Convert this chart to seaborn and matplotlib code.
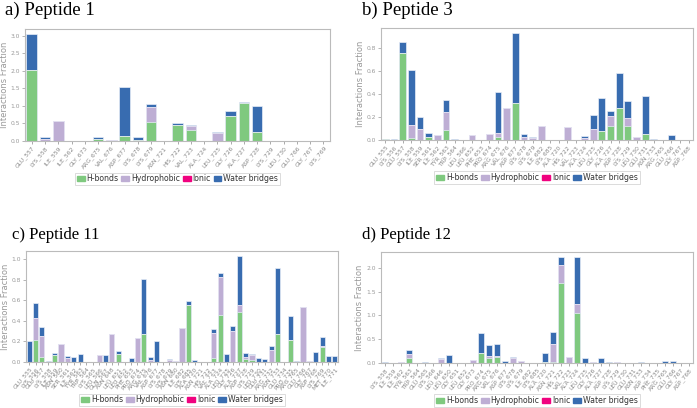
import numpy as np
import pandas as pd
import matplotlib
matplotlib.use("Agg")
import matplotlib.pyplot as plt
from matplotlib.patches import Patch
import seaborn as sns

# colours used by the interaction histogram
C_HB = "#7fc97f"
C_HY = "#beaed4"
C_IO = "#f0027f"
C_WB = "#386cb0"

# ---- Peptide 1 ----
labels_a = ["GLU_557", "LYS_558", "ILE_559", "ILE_562", "GLY_673", "ARG_675", "VAL_676",
            "ASP_677", "LYS_678", "LYS_679", "ASN_721", "HIS_722", "VAL_723", "ALA_724",
            "LEU_725", "GLY_726", "ALA_727", "ASP_728", "LYS_729", "LEU_730", "GLU_766",
            "GLY_767", "LYS_769"]
hb_a = [2.02, 0, 0, 0, 0, 0.06, 0, 0.13, 0.02, 0.55, 0, 0.45, 0.30, 0, 0, 0.70, 1.08,
        0.27, 0, 0, 0.01, 0, 0]
hy_a = [0, 0.05, 0.58, 0, 0, 0.01, 0.03, 0, 0, 0.43, 0, 0.02, 0.12, 0, 0.23, 0.02, 0,
        0, 0, 0, 0, 0, 0]
io_a = [0] * 23
wb_a = [1.02, 0.07, 0, 0, 0, 0.04, 0, 1.42, 0.10, 0.08, 0, 0.05, 0.05, 0, 0.02, 0.14,
        0.02, 0.73, 0.01, 0.01, 0, 0.01, 0]

# ---- Peptide 3 ----
labels_b = ["GLU_555", "LYS_556", "GLU_557", "LYS_558", "ILE_559", "SER_561", "ILE_562",
            "TYR_563", "TRP_564", "LEU_566", "LEU_652", "PHE_653", "PRO_674", "ARG_675",
            "VAL_676", "ASP_677", "LYS_678", "LYS_679", "ILE_682", "LYS_685", "ALA_720",
            "HIS_722", "VAL_723", "ALA_724", "LEU_725", "GLY_726", "ALA_727", "ASP_728",
            "LYS_729", "LEU_730", "GLU_731", "ASN_733", "ARG_765", "GLU_766", "GLY_767",
            "ASP_768"]
hb_b = [0.005, 0, 0.76, 0.02, 0, 0.03, 0, 0.09, 0, 0, 0, 0, 0, 0.03, 0, 0.32, 0, 0, 0, 0,
        0, 0, 0, 0, 0, 0.08, 0.12, 0.28, 0.12, 0, 0.05, 0, 0, 0, 0, 0]
hy_b = [0, 0, 0, 0.11, 0.10, 0, 0.045, 0.15, 0, 0, 0.04, 0, 0.05, 0.03, 0.28, 0, 0.03,
        0.015, 0.12, 0, 0, 0.11, 0, 0.02, 0.10, 0, 0.09, 0, 0.07, 0.03, 0, 0, 0, 0, 0, 0]
io_b = [0] * 36
wb_b = [0.005, 0.005, 0.09, 0.48, 0.10, 0.03, 0, 0.11, 0.005, 0, 0.005, 0, 0, 0.36, 0,
        0.61, 0.02, 0.015, 0, 0, 0, 0, 0, 0.015, 0.12, 0.29, 0.04, 0.30, 0.15, 0, 0.33,
        0.01, 0, 0.045, 0, 0]

# ---- Peptide 11 ----
labels_c = ["GLU_555", "LYS_556", "GLU_557", "LYS_558", "ILE_559", "ASN_560", "SER_561",
            "ILE_562", "TYR_563", "TRP_564", "LYS_565", "LEU_566", "GLN_567", "ASN_648",
            "LEU_651", "LEU_652", "PHE_653", "PRO_674", "ARG_675", "VAL_676", "ASP_677",
            "LYS_678", "LYS_679", "ASN_680", "ILE_682", "LYS_685", "ALA_720", "ASN_721",
            "HIS_722", "VAL_723", "ALA_724", "LEU_725", "GLY_726", "ALA_727", "ASP_728",
            "LYS_729", "LEU_730", "GLU_731", "ARG_732", "ASN_733", "GLU_734", "PRO_735",
            "ARG_765", "GLU_766", "GLY_767", "ASP_768", "LYS_769", "MET_770", "ILE_771"]
hb_c = [0, 0.21, 0.05, 0, 0.07, 0, 0, 0, 0, 0, 0, 0, 0, 0, 0.08, 0, 0, 0, 0.27, 0, 0, 0,
        0, 0, 0, 0.56, 0, 0, 0, 0.04, 0.46, 0, 0, 0.49, 0.03, 0.02, 0, 0, 0, 0.27, 0, 0.21,
        0, 0, 0, 0, 0.15, 0, 0]
hy_c = [0, 0.22, 0.20, 0, 0, 0.18, 0.04, 0, 0, 0, 0.005, 0.07, 0, 0.27, 0, 0, 0, 0.23,
        0, 0.02, 0, 0, 0.015, 0.01, 0.33, 0, 0, 0, 0, 0.24, 0.37, 0, 0.30, 0.07, 0.02,
        0.05, 0, 0, 0.12, 0, 0, 0, 0, 0.54, 0.01, 0, 0.01, 0, 0]
io_c = [0] * 49
wb_c = [0.20, 0.15, 0.09, 0.01, 0.02, 0, 0.02, 0.045, 0.075, 0, 0, 0, 0.07, 0, 0.025, 0,
        0.035, 0, 0.54, 0.03, 0.20, 0, 0.01, 0, 0, 0.03, 0.02, 0, 0, 0.04, 0.04, 0.08,
        0.05, 0.47, 0.04, 0.01, 0.035, 0.03, 0.04, 0.65, 0, 0.24, 0.01, 0, 0, 0.095, 0.08,
        0.055, 0.06]

# ---- Peptide 12 ----
labels_d = ["LYS_558", "ILE_559", "ILE_562", "TYR_563", "TRP_564", "GLU_565", "LYS_566",
            "LEU_646", "LEU_650", "GLY_651", "LEU_652", "GLY_673", "PRO_674", "ARG_675",
            "VAL_676", "ASP_677", "LYS_678", "LYS_679", "ILE_682", "LYS_685", "ALA_720",
            "ASN_721", "HIS_722", "VAL_723", "ALA_724", "LEU_725", "GLY_726", "ALA_727",
            "ASP_728", "LYS_729", "LEU_730", "GLU_731", "ASN_733", "ASP_734", "PHE_735",
            "ARG_765", "GLU_766", "GLY_767", "ASP_768"]
hb_d = [0, 0, 0, 0.10, 0, 0, 0, 0, 0, 0, 0, 0, 0.20, 0.10, 0.12, 0, 0, 0, 0, 0, 0.02,
        0.02, 1.68, 0, 1.04, 0.01, 0, 0, 0, 0, 0, 0, 0, 0, 0, 0, 0, 0, 0]
hy_d = [0, 0, 0.03, 0.09, 0, 0, 0, 0.08, 0, 0, 0, 0.06, 0, 0.04, 0.02, 0, 0.10, 0.05, 0,
        0, 0, 0.38, 0.38, 0.13, 0.19, 0, 0.02, 0, 0, 0.03, 0, 0, 0, 0, 0, 0, 0, 0.01, 0]
io_d = [0] * 39
wb_d = [0.015, 0, 0, 0.08, 0, 0.02, 0, 0.02, 0.16, 0, 0, 0, 0.42, 0.23, 0.25, 0.04, 0.02,
        0, 0, 0, 0.20, 0.25, 0.16, 0, 0.99, 0.09, 0, 0.11, 0.03, 0, 0.01, 0, 0.02, 0, 0,
        0.035, 0.05, 0, 0]

sns.set_style("ticks")
plt.rcParams["font.family"] = ["DejaVu Sans"]

fig = plt.figure(figsize=(6.97, 4.08), dpi=100)

panels = [
    ("a) Peptide 1", 13.5, labels_a, hb_a, hy_a, io_a, wb_a, [0.036, 0.6544, 0.4376, 0.2745], (5, 2), np.arange(0, 3.01, 0.5)),
    ("b) Peptide 3", 13.5, labels_b, hb_b, hy_b, io_b, wb_b, [0.5466, 0.6569, 0.4476, 0.2745], (362, 2), np.arange(0, 0.81, 0.2)),
    ("c) Peptide 11", 12, labels_c, hb_c, hy_c, io_c, wb_c, [0.0373, 0.1127, 0.4476, 0.272], (12, 227), np.arange(0, 1.01, 0.2)),
    ("d) Peptide 12", 12, labels_d, hb_d, hy_d, io_d, wb_d, [0.5466, 0.1103, 0.4476, 0.272], (362, 227), np.arange(0, 2.01, 0.5)),
]

handles = [Patch(color=C_HB, label="H-bonds"), Patch(color=C_HY, label="Hydrophobic"),
           Patch(color=C_IO, label="Ionic"), Patch(color=C_WB, label="Water bridges")]

for title, tsize, labels, hb, hy, io, wb, pos, tpos, yt in panels:
    ax = fig.add_axes(pos)
    df = pd.DataFrame({"res": labels, "hb": hb, "hy": hy, "io": io, "wb": wb})
    df["c1"] = df["hb"]
    df["c2"] = df["c1"] + df["hy"]
    df["c3"] = df["c2"] + df["io"]
    df["c4"] = df["c3"] + df["wb"]
    # draw stacked bars from the top layer down
    for col, colr in [("c4", C_WB), ("c3", C_IO), ("c2", C_HY), ("c1", C_HB)]:
        sns.barplot(data=df, x="res", y=col, order=labels, color=colr, saturation=1,
                    width=0.8, edgecolor="#e8eef8", linewidth=0.5, ax=ax)
    ax.set_xlim(-0.5, len(labels) - 0.5)
    ax.set_ylim(0, df["c4"].max() * 1.05)
    ax.set_yticks(yt)
    ax.set_yticklabels([f"{v:.1f}" for v in yt])
    ax.set_xlabel("")
    ax.set_ylabel("Interactions Fraction", fontsize=6, color="#999999", labelpad=1.5)
    ax.tick_params(axis="x", labelsize=4.3, colors="#888888", rotation=50, length=2, width=0.5, pad=1)
    ax.tick_params(axis="y", labelsize=4.3, colors="#999999", length=2, width=0.5, pad=1.5)
    for lab in ax.get_xticklabels():
        lab.set_ha("right")
        lab.set_rotation_mode("anchor")
    for s in ax.spines.values():
        s.set_visible(True)
        s.set_color("#bbbbbb")
        s.set_linewidth(0.8)
    cx = (pos[0] + pos[2] / 2)
    cy = pos[1] - 0.093
    leg = ax.legend(handles=handles, loc="center", bbox_to_anchor=(cx, cy),
                    bbox_transform=fig.transFigure, ncol=4, fontsize=5.6,
                    handlelength=1.0, handleheight=0.7, handletextpad=0.25,
                    columnspacing=0.35, borderpad=0.25, frameon=True, fancybox=False)
    leg.get_frame().set_edgecolor("#cccccc")
    leg.get_frame().set_linewidth(0.6)
    for t in leg.get_texts():
        t.set_color("#333333")
    fig.text(tpos[0] / 697, 1 - tpos[1] / 408, title, ha="left", va="top",
             fontsize=tsize, family="Liberation Serif", color="black")

fig.savefig("out.png", dpi=100)
